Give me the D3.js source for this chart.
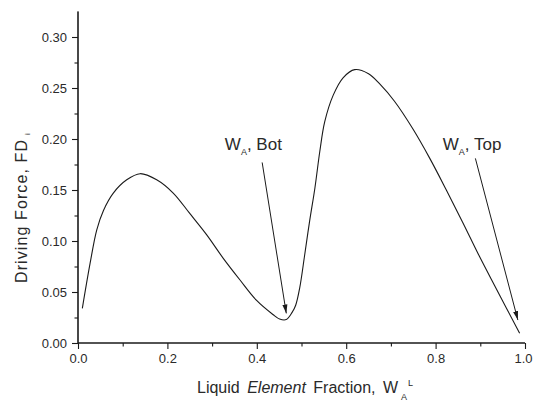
<!DOCTYPE html>
<html>
<head>
<meta charset="utf-8">
<script src="https://cdn.jsdelivr.net/npm/d3@7"></script>
<style>
  html, body { margin: 0; padding: 0; background: #fff; }
  svg { display: block; font-family: "Liberation Sans", Arial, sans-serif; }
</style>
</head>
<body>
<svg id="chart" width="533" height="402"></svg>
<script>
// Curve data: liquid element fraction vs driving force
const fraction = [0.0097, 0.027, 0.042, 0.057, 0.079, 0.109, 0.139, 0.176, 0.213, 0.250, 0.288, 0.325, 0.362, 0.399, 0.436, 0.451, 0.466, 0.479, 0.487, 0.496, 0.507, 0.518, 0.530, 0.541, 0.552, 0.571, 0.593, 0.619, 0.650, 0.675, 0.708, 0.749, 0.787, 0.824, 0.861, 0.898, 0.936, 0.988];
const drivingForce = [0.034, 0.078, 0.111, 0.130, 0.147, 0.160, 0.166, 0.160, 0.147, 0.127, 0.106, 0.083, 0.062, 0.042, 0.028, 0.0235, 0.023, 0.030, 0.037, 0.054, 0.086, 0.119, 0.152, 0.188, 0.217, 0.243, 0.260, 0.268, 0.264, 0.254, 0.237, 0.210, 0.181, 0.150, 0.118, 0.085, 0.053, 0.0095];

const xTicks = [0.0, 0.2, 0.4, 0.6, 0.8, 1.0];
const xMinorTicks = [0.1, 0.3, 0.5, 0.7, 0.9];
const yTicks = [0.00, 0.05, 0.10, 0.15, 0.20, 0.25, 0.30];
const yMinorTicks = [0.025, 0.075, 0.125, 0.175, 0.225, 0.275];

// Annotations (data units)
const annLabels = ["Bot", "Top"];
const annTextX = [0.3285, 0.816];
const annTextY = [0.189, 0.189];
const arrowFromX = [0.412, 0.889];
const arrowFromY = [0.177, 0.181];
const arrowToX = [0.466, 0.984];
const arrowToY = [0.029, 0.0225];

const svg = d3.select("#chart");
const x = d3.scaleLinear().domain([0, 1]).range([78, 525]);
const y = d3.scaleLinear().domain([0, 0.325]).range([343, 11.5]);
const ink = "#1a1a1a";
const textInk = "#2a2a2a";

// Axes
const xAxis = svg.append("g").attr("transform", `translate(0,${y(0)})`)
  .call(d3.axisBottom(x).tickValues(xTicks).tickFormat(d3.format(".1f")).tickSize(6).tickPadding(5));
const xMinor = svg.append("g").attr("transform", `translate(0,${y(0)})`)
  .call(d3.axisBottom(x).tickValues(xMinorTicks).tickFormat("").tickSize(3.5));
const yAxis = svg.append("g").attr("transform", `translate(${x(0)},0)`)
  .call(d3.axisLeft(y).tickValues(yTicks).tickFormat(d3.format(".2f")).tickSize(6).tickPadding(5));
const yMinor = svg.append("g").attr("transform", `translate(${x(0)},0)`)
  .call(d3.axisLeft(y).tickValues(yMinorTicks).tickFormat("").tickSize(3.5));

[xAxis, xMinor, yAxis, yMinor].forEach(g => {
  g.select(".domain").attr("stroke", ink).attr("stroke-width", 1.1);
  g.selectAll(".tick line").attr("stroke", ink).attr("stroke-width", 1.1);
  g.selectAll(".tick text").attr("fill", textInk).attr("font-size", 13)
    .attr("font-family", "Liberation Sans, Arial, sans-serif");
});
[xAxis, xMinor].forEach(g => g.select(".domain").attr("d", `M${x(0)},0H${x(1)}`));
[yAxis, yMinor].forEach(g => g.select(".domain").attr("d", `M0,${y(0.325)}V${y(0)}`));
// keep the last x label inside the frame
xAxis.selectAll(".tick text").filter(d => d === 1).attr("text-anchor", "end").attr("dx", 7);

// Curve
const pts = fraction.map((f, i) => [f, drivingForce[i]]);
svg.append("path")
  .datum(pts)
  .attr("fill", "none")
  .attr("stroke", ink)
  .attr("stroke-width", 1.1)
  .attr("d", d3.line().x(d => x(d[0])).y(d => y(d[1])).curve(d3.curveCatmullRom.alpha(0.5)));

// Arrowhead marker
svg.append("defs").append("marker")
  .attr("id", "arrow")
  .attr("viewBox", "0 0 10 10")
  .attr("refX", 10).attr("refY", 5)
  .attr("markerWidth", 9).attr("markerHeight", 9)
  .attr("markerUnits", "userSpaceOnUse")
  .attr("orient", "auto")
  .append("path").attr("d", "M0,2.2L10,5L0,7.8Z").attr("fill", ink);

annLabels.forEach((lab, i) => {
  svg.append("line")
    .attr("x1", x(arrowFromX[i])).attr("y1", y(arrowFromY[i]))
    .attr("x2", x(arrowToX[i])).attr("y2", y(arrowToY[i]))
    .attr("stroke", ink).attr("stroke-width", 1)
    .attr("marker-end", "url(#arrow)");
  const t = svg.append("text")
    .attr("x", x(annTextX[i])).attr("y", y(annTextY[i]))
    .attr("font-size", 17).attr("fill", textInk);
  t.append("tspan").text("W");
  t.append("tspan").attr("font-size", 9).attr("dy", 5).text("A");
  t.append("tspan").attr("dy", -5).text(", " + lab);
});

// X axis title
const xt = svg.append("text")
  .attr("x", 197).attr("y", 393)
  .attr("font-size", 16).attr("fill", textInk)
  .attr("word-spacing", 3);
xt.append("tspan").text("Liquid ");
xt.append("tspan").attr("font-style", "italic").text("Element");
xt.append("tspan").text(" Fraction, W");
xt.append("tspan").attr("font-size", 9).attr("dx", 3).attr("dy", 7).text("A");
xt.append("tspan").attr("font-size", 9).attr("dx", 1).attr("dy", -14).text("L");

// Y axis title
const yt = svg.append("text")
  .attr("transform", "translate(27,283) rotate(-90)")
  .attr("x", 0).attr("y", 0)
  .attr("font-size", 16).attr("fill", textInk);
yt.append("tspan").attr("letter-spacing", 1.1).text("Driving Force, FD");
yt.append("tspan").attr("font-size", 8).attr("dx", 4).attr("dy", 3).text("i");
</script>
</body>
</html>
